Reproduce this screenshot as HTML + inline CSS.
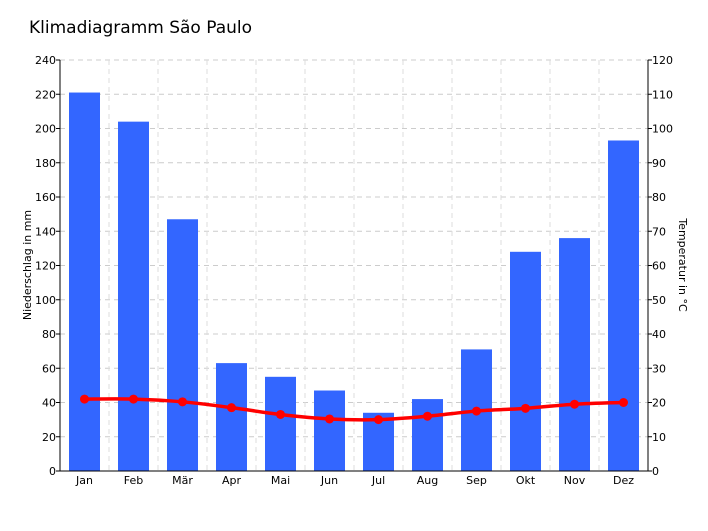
<!DOCTYPE html>
<html><head><meta charset="utf-8"><style>
body{margin:0;background:#fff;}
svg{display:block;font-family:"DejaVu Sans","Liberation Sans",sans-serif;}
</style></head><body>
<svg id="chart" width="708" height="531">
<text x="29" y="33" font-size="17" fill="#000">Klimadiagramm São Paulo</text>
<g id="grid"></g><g id="bars"></g><g id="line"></g><g id="axes"></g>
<text transform="translate(31,265) rotate(-90)" text-anchor="middle" font-size="11">Niederschlag in mm</text>
<text transform="translate(679,265) rotate(90)" text-anchor="middle" font-size="11">Temperatur in °C</text>
</svg>
<script>
const months=["Jan","Feb","Mär","Apr","Mai","Jun","Jul","Aug","Sep","Okt","Nov","Dez"];
const precip=[221,204,147,63,55,47,34,42,71,128,136,193];
const temp=[21,21,20.2,18.5,16.5,15.2,15,16,17.5,18.3,19.5,20];
const leftTicks=[0,20,40,60,80,100,120,140,160,180,200,220,240];
const rightTicks=[0,10,20,30,40,50,60,70,80,90,100,110,120];
const NS="http://www.w3.org/2000/svg";
const X0=60,X1=648,Y0=471,Y1=60;
const cw=(X1-X0)/months.length;
const yL=v=>Y0-(v/240)*(Y0-Y1);
const yR=v=>Y0-(v/120)*(Y0-Y1);
const xc=i=>X0+cw*(i+0.5);
function mk(t,a,p){const e=document.createElementNS(NS,t);for(const k in a)e.setAttribute(k,a[k]);p.appendChild(e);return e;}
const g=document.getElementById('grid'),b=document.getElementById('bars'),l=document.getElementById('line'),ax=document.getElementById('axes');
leftTicks.forEach(v=>{if(v===0)return;const e=mk('line',{x1:X0,x2:X1,y1:yL(v),y2:yL(v),stroke:'#ccc','stroke-dasharray':'5,4'},g);

});
for(let i=1;i<months.length;i++){const e=mk('line',{x1:X0+cw*i,x2:X0+cw*i,y1:Y1,y2:Y0,stroke:'#ddd','stroke-dasharray':'5,4'},g);

}
precip.forEach((v,i)=>{const e=mk('rect',{x:xc(i)-15.5,y:yL(v),width:31,height:Y0-yL(v),fill:'#3366ff'},b);

});
const pts=temp.map((v,i)=>[xc(i),yR(v)]);
let d='M'+pts[0][0]+','+pts[0][1];
for(let i=0;i<pts.length-1;i++){const p0=pts[i-1]||pts[i],p1=pts[i],p2=pts[i+1],p3=pts[i+2]||p2;
d+=' C'+(p1[0]+(p2[0]-p0[0])/6)+','+(p1[1]+(p2[1]-p0[1])/6)+' '+(p2[0]-(p3[0]-p1[0])/6)+','+(p2[1]-(p3[1]-p1[1])/6)+' '+p2[0]+','+p2[1];}
const pl=mk('path',{d:d,fill:'none',stroke:'#ff0000','stroke-width':3.5},l);


pts.forEach((p,i)=>{const c=mk('circle',{cx:p[0],cy:p[1],r:4.5,fill:'#ff0000'},l);

});
mk('line',{x1:X0,x2:X0,y1:Y1,y2:Y0,stroke:'#000'},ax);
mk('line',{x1:X1,x2:X1,y1:Y1,y2:Y0,stroke:'#000'},ax);
mk('line',{x1:X0,x2:X1,y1:Y0,y2:Y0,stroke:'#000'},ax);
leftTicks.forEach(v=>{mk('line',{x1:X0-4,x2:X0,y1:yL(v),y2:yL(v),stroke:'#000'},ax);
const t=mk('text',{x:X0-4,y:yL(v)+4,'text-anchor':'end','font-size':11},ax);t.textContent=v;

});
rightTicks.forEach(v=>{mk('line',{x1:X1,x2:X1+4,y1:yR(v),y2:yR(v),stroke:'#000'},ax);
const t=mk('text',{x:X1+4,y:yR(v)+4,'font-size':11},ax);t.textContent=v;

});
months.forEach((m,i)=>{const t=mk('text',{x:xc(i),y:Y0+13,'text-anchor':'middle','font-size':11},ax);t.textContent=m;

});
</script>
</body></html>
